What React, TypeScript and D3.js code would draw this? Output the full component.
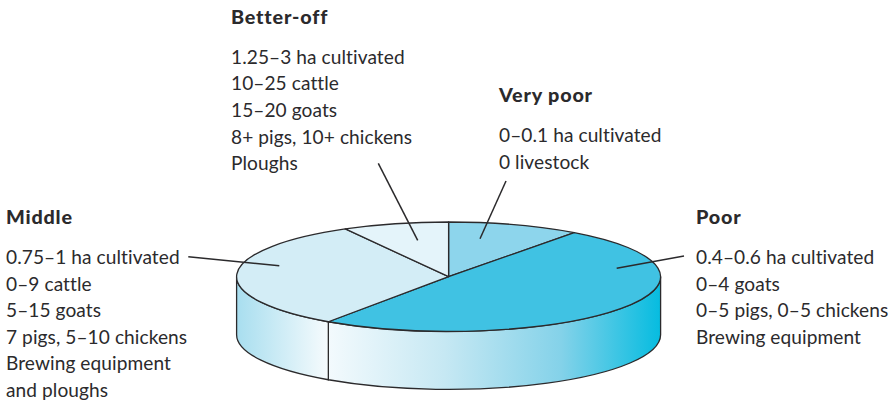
import React from "react";
import * as d3 from "d3";

const groups = ["Very poor", "Poor", "Middle", "Better-off"];
const shares = [10.1, 49.5, 32.3, 8.1];
const topColors = ["#8dd5ec", "#40c2e3", "#d3edf6", "#e4f4fa"];

const veryPoorLines = ["0–0.1 ha cultivated", "0 livestock"];
const poorLines = ["0.4–0.6 ha cultivated", "0–4 goats", "0–5 pigs, 0–5 chickens", "Brewing equipment"];
const middleLines = ["0.75–1 ha cultivated", "0–9 cattle", "5–15 goats", "7 pigs, 5–10 chickens", "Brewing equipment", "and ploughs"];
const betterOffLines = ["1.25–3 ha cultivated", "10–25 cattle", "15–20 goats", "8+ pigs, 10+ chickens", "Ploughs"];

const W = 892, H = 406;
const cx = 448.6, cy = 276.7, rx = 212, ry = 54.7, depth = 58;
const ink = "#2b2a2c";
const font = "Lato, sans-serif";

function Block({ x, head, headY, lines, ys }: { x: number; head: string; headY: number; lines: string[]; ys: number[] }) {
  return (
    <g fontFamily={font} fontSize={19.1} fill={ink} letterSpacing={0.08}>
      <text x={x} y={headY} fontWeight={900} fontSize={19.8} letterSpacing={0.8}>{head}</text>
      {lines.map((l, i) => <text key={i} x={x} y={ys[i]}>{l}</text>)}
    </g>
  );
}

export default function App() {
  const pie = d3.pie<number>().sort(null).startAngle(0).endAngle(2 * Math.PI);
  const arcs = pie(shares);
  const arc = d3.arc<d3.PieArcDatum<number>>().innerRadius(0).outerRadius(rx);
  const px = (a: number) => cx + rx * Math.sin(a);
  const py = (a: number) => cy - ry * Math.cos(a);

  // The rim: visible lower half of the ellipse, split at the Poor/Middle boundary
  const split = arcs[1].endAngle;
  const rimPath = (a0: number, a1: number) =>
    `M${px(a0)},${py(a0)}A${rx},${ry} 0 0 1 ${px(a1)},${py(a1)}L${px(a1)},${py(a1) + depth}A${rx},${ry} 0 0 0 ${px(a0)},${py(a0) + depth}Z`;
  const rightStart = Math.PI / 2, leftEnd = (3 * Math.PI) / 2;

  return (
    <svg width={W} height={H} style={{ position: "absolute", left: 0, top: 0, background: "#fff" }}>
      <defs>
        <linearGradient id="rimR" gradientUnits="userSpaceOnUse" x1={px(split)} x2={cx + rx} y1={0} y2={0}>
          <stop offset="0" stopColor="#f3fafd" />
          <stop offset="0.35" stopColor="#c6e8f3" />
          <stop offset="0.7" stopColor="#84d2e9" />
          <stop offset="1" stopColor="#06bce0" />
        </linearGradient>
        <linearGradient id="rimL" gradientUnits="userSpaceOnUse" x1={cx - rx} x2={px(split)} y1={0} y2={0}>
          <stop offset="0" stopColor="#a8deef" />
          <stop offset="1" stopColor="#f6fbfd" />
        </linearGradient>
      </defs>

      <g stroke={ink} strokeWidth={1.3}>
        <path d={rimPath(rightStart, split)} fill="url(#rimR)" />
        <path d={rimPath(split, leftEnd)} fill="url(#rimL)" />
      </g>

      <g transform={`translate(${cx},${cy}) scale(1,${ry / rx})`} stroke={ink} strokeWidth={1.3} strokeLinejoin="round">
        {arcs.map((d, i) => (
          <path key={groups[i]} d={arc(d) || ""} fill={topColors[i]} style={{ vectorEffect: "non-scaling-stroke" }} />
        ))}
      </g>

      <g stroke={ink} strokeWidth={1.5} fill="none">
        <line x1={378.3} y1={163.3} x2={417.7} y2={240.3} />
        <line x1={506} y1={181} x2={480} y2={238.7} />
        <line x1={188.3} y1={256.7} x2={279.3} y2={265.7} />
        <line x1={684} y1={256} x2={616.7} y2={268.3} />
      </g>

      <Block x={231} head={groups[3]} headY={23.5} lines={betterOffLines} ys={[63.5, 90, 117, 143.5, 170]} />
      <Block x={499} head={groups[0]} headY={102} lines={veryPoorLines} ys={[142, 169]} />
      <Block x={696} head={groups[1]} headY={224} lines={poorLines} ys={[264, 291, 317, 344]} />
      <Block x={6} head={groups[2]} headY={224} lines={middleLines} ys={[264, 291, 317, 344, 370, 397]} />
    </svg>
  );
}
